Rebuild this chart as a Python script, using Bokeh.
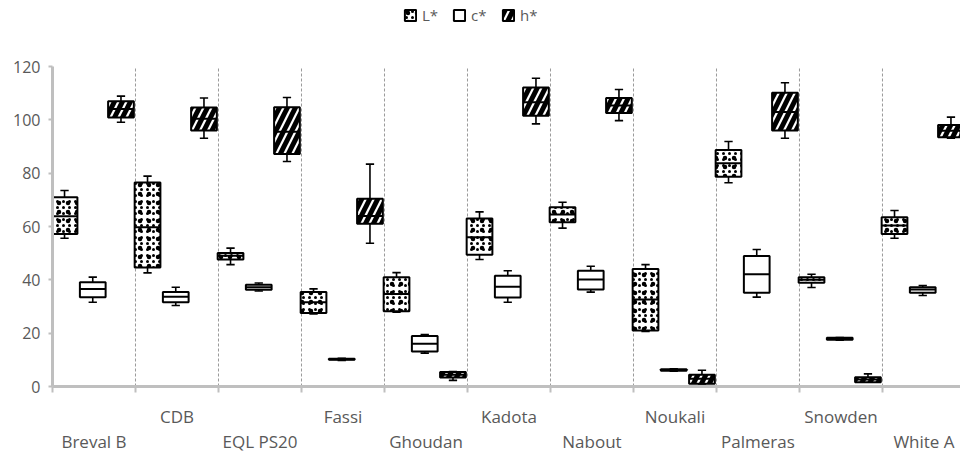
from bokeh.plotting import figure
from bokeh.models import (FixedTicker, LinearAxis, Range1d, Legend, LegendItem,
                          ColumnDataSource)
from bokeh.embed import file_html
from bokeh.resources import INLINE

# ---------------- data ----------------
categories = ["Breval B", "CDB", "EQL PS20", "Fassi", "Ghoudan", "Kadota",
              "Nabout", "Noukali", "Palmeras", "Snowden", "White A"]
series_names = ["L*", "c*", "h*"]

L_low  = [55.6, 42.6, 45.7, 27.2, 27.9, 47.6, 59.4, 20.6, 76.4, 37.1, 55.6]
L_q1   = [57.2, 44.6, 47.6, 27.6, 28.2, 49.4, 61.6, 21.0, 78.7, 38.9, 57.2]
L_med  = [63.8, 59.7, 49.0, 31.6, 34.7, 56.0, 64.5, 32.6, 83.7, 40.0, 60.4]
L_q3   = [71.0, 76.5, 50.1, 35.4, 41.0, 63.0, 67.2, 44.1, 88.7, 41.0, 63.5]
L_high = [73.5, 78.9, 51.9, 36.6, 42.7, 65.5, 69.1, 45.7, 91.9, 42.1, 66.0]

c_low  = [31.6, 30.4, 35.8, 9.8, 12.5, 31.6, 35.4, 5.7, 33.5, 17.4, 34.1]
c_q1   = [33.5, 31.6, 36.3, 10.0, 13.1, 33.4, 36.4, 5.9, 35.2, 17.5, 35.2]
c_med  = [36.6, 33.7, 37.2, 10.2, 16.0, 37.4, 40.1, 6.2, 42.1, 17.9, 36.4]
c_q3   = [39.1, 35.4, 38.2, 10.4, 18.9, 41.5, 43.4, 6.5, 48.9, 18.3, 37.2]
c_high = [41.0, 37.2, 38.8, 10.6, 19.5, 43.4, 45.1, 6.6, 51.4, 18.4, 37.9]

h_low  = [99.1, 93.1, 84.4, 53.7, 2.3, 98.5, 99.7, 1.0, 93.1, 1.6, 93.1]
h_q1   = [100.9, 96.0, 87.2, 61.0, 3.4, 101.5, 102.6, 1.0, 96.0, 1.6, 93.5]
h_med  = [104.1, 100.4, 95.5, 63.9, 4.4, 106.6, 105.4, 2.9, 102.9, 2.6, 95.9]
h_q3   = [107.0, 104.6, 104.7, 70.4, 5.4, 112.1, 108.2, 4.4, 110.2, 3.5, 98.1]
h_high = [108.9, 108.2, 108.4, 83.4, 5.6, 115.6, 111.4, 6.1, 113.9, 4.75, 101.0]

y_ticks = [0, 20, 40, 60, 80, 100, 120]
y_max = 120

# ---------------- styling ----------------
FONT = "Open Sans"
TXT = "#595959"
AXIS = "#BFBFBF"
OFFSETS = [-0.355, -0.015, 0.325]
BOX_W = 0.31
CAP_HALF = 0.05
HATCH = [[dict(hatch_pattern="dot", hatch_scale=6, hatch_weight=4, hatch_color="black"),
          dict(hatch_pattern="dot", hatch_scale=9, hatch_weight=4, hatch_color="black")],
         [dict()],
         [dict(hatch_pattern="right_diagonal_line", hatch_scale=16, hatch_weight=5,
               hatch_color="black")]]

n = len(categories)
x_end = 10.94
PX_PER_UNIT = 320 / y_max      # 120 units over 320 px
FRAME_H = 378                  # frame extends up to hold the legend
y_top = FRAME_H / PX_PER_UNIT

p = figure(frame_width=908, frame_height=FRAME_H,
           x_range=Range1d(0, x_end), y_range=Range1d(0, y_top),
           output_backend="svg", toolbar_location=None,
           min_border_left=52, min_border_right=0, min_border_top=8,
           min_border_bottom=0)
p.outline_line_color = None
p.background_fill_color = "white"
p.border_fill_color = "white"
p.xgrid.grid_line_color = None
p.ygrid.grid_line_color = None

# dashed vertical separators between categories (only up to the top of the value axis)
sep = list(range(1, n))
p.segment(x0=sep, y0=[0] * len(sep), x1=sep, y1=[y_max] * len(sep),
          line_color="#9A9A9A", line_dash="3 2", line_width=1, level="underlay")

# y axis
p.yaxis.ticker = FixedTicker(ticks=y_ticks)
p.yaxis.bounds = (0, y_max)
p.yaxis.axis_line_color = AXIS
p.yaxis.axis_line_width = 3
p.yaxis.major_tick_line_color = AXIS
p.yaxis.major_tick_line_width = 2
p.yaxis.major_tick_out = 4
p.yaxis.major_tick_in = 0
p.yaxis.minor_tick_line_color = None
p.yaxis.major_label_text_font = FONT
p.yaxis.major_label_text_font_size = "16px"
p.yaxis.major_label_text_color = TXT
p.yaxis.major_label_standoff = 8

# x axis: line, boundary ticks (as minor ticks) and first row of labels
row1 = list(range(1, n, 2))
row2 = list(range(0, n, 2))
p.xaxis.ticker = FixedTicker(ticks=[i + 0.5 for i in row1],
                             minor_ticks=list(range(0, n)))
p.xaxis.major_label_overrides = {i + 0.5: categories[i] for i in row1}
p.xaxis.axis_line_color = AXIS
p.xaxis.axis_line_width = 3
p.xaxis.major_tick_line_color = None
p.xaxis.major_tick_out = 0
p.xaxis.major_tick_in = 0
p.xaxis.minor_tick_line_color = AXIS
p.xaxis.minor_tick_line_width = 2
p.xaxis.minor_tick_out = 6
p.xaxis.minor_tick_in = 0
p.xaxis.major_label_text_font = FONT
p.xaxis.major_label_text_font_size = "17px"
p.xaxis.major_label_text_color = TXT
p.xaxis.major_label_standoff = 12

# second row of labels
ax2 = LinearAxis(ticker=FixedTicker(ticks=[i + 0.5 for i in row2]),
                 major_label_overrides={i + 0.5: categories[i] for i in row2})
ax2.axis_line_color = None
ax2.major_tick_line_color = None
ax2.minor_tick_line_color = None
ax2.major_tick_out = 0
ax2.major_tick_in = 0
ax2.major_label_text_font = FONT
ax2.major_label_text_font_size = "17px"
ax2.major_label_text_color = TXT
ax2.major_label_standoff = -1
p.add_layout(ax2, "below")

stats = [(L_low, L_q1, L_med, L_q3, L_high),
         (c_low, c_q1, c_med, c_q3, c_high),
         (h_low, h_q1, h_med, h_q3, h_high)]

legend_items = []
for s, (lo, q1, med, q3, hi) in enumerate(stats):
    xs = [i + 0.5 + OFFSETS[s] for i in range(n)]
    src = ColumnDataSource(dict(
        x=xs, lo=lo, q1=q1, med=med, q3=q3, hi=hi,
        x0=[x - BOX_W / 2 for x in xs], x1=[x + BOX_W / 2 for x in xs],
        c0=[x - CAP_HALF for x in xs], c1=[x + CAP_HALF for x in xs]))
    # whiskers
    p.segment(x0="x", y0="q3", x1="x", y1="hi", source=src, line_color="black", line_width=1.6)
    p.segment(x0="x", y0="q1", x1="x", y1="lo", source=src, line_color="black", line_width=1.6)
    p.segment(x0="c0", y0="hi", x1="c1", y1="hi", source=src, line_color="black", line_width=1.6)
    p.segment(x0="c0", y0="lo", x1="c1", y1="lo", source=src, line_color="black", line_width=1.6)
    # box (base + extra hatch layers)
    rs = [p.vbar(x="x", width=BOX_W, bottom="q1", top="q3", source=src,
                 fill_color="white", line_color=None, **HATCH[s][0])]
    for extra in HATCH[s][1:]:
        rs.append(p.vbar(x="x", width=BOX_W, bottom="q1", top="q3", source=src,
                         fill_alpha=0, line_color=None, **extra))
    rs.append(p.vbar(x="x", width=BOX_W, bottom="q1", top="q3", source=src,
                     fill_alpha=0, line_color="black", line_width=2))
    # median
    p.segment(x0="x0", y0="med", x1="x1", y1="med", source=src, line_color="black", line_width=2)
    legend_items.append(LegendItem(label=series_names[s], renderers=rs))

legend = Legend(items=legend_items, orientation="horizontal",
                location=(351, FRAME_H - 17), padding=0, margin=0, spacing=10,
                glyph_width=14, glyph_height=14, label_height=20,
                label_standoff=5, border_line_color=None,
                background_fill_alpha=0,
                label_text_font=FONT, label_text_font_size="15px",
                label_text_color=TXT)
p.add_layout(legend, "center")

open("out.html", "w").write(file_html(p, INLINE))
